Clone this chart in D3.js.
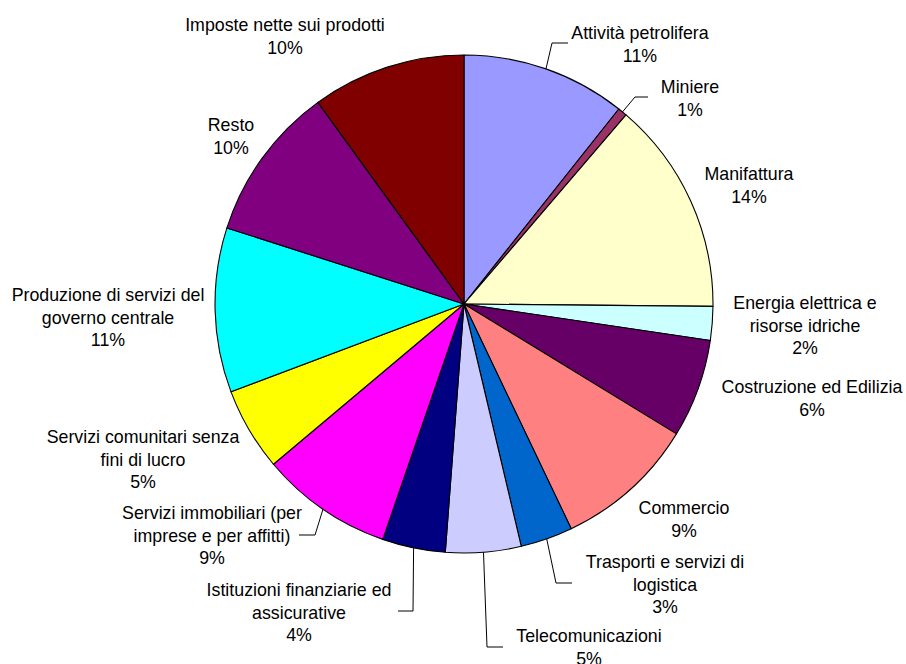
<!DOCTYPE html>
<html><head><meta charset="utf-8">
<script src="https://cdn.jsdelivr.net/npm/d3@7/dist/d3.min.js"></script>
<style>html,body{margin:0;padding:0;background:#fff;}svg{display:block;}</style>
</head><body>
<svg id="chart" width="906" height="664"></svg>
<script>
const categories = ["Attività petrolifera","Miniere","Manifattura","Energia elettrica e risorse idriche","Costruzione ed Edilizia","Commercio","Trasporti e servizi di logistica","Telecomunicazioni","Istituzioni finanziarie ed assicurative","Servizi immobiliari (per imprese e per affitti)","Servizi comunitari senza fini di lucro","Produzione di servizi del governo centrale","Resto","Imposte nette sui prodotti"];
const values = [10.7,0.6,13.9,2.2,6.4,9.2,3.4,4.9,4.1,8.6,5.4,10.7,10.1,10.0];
const colors = ["#9999FF","#993366","#FFFFCC","#CCFFFF","#660066","#FF8080","#0066CC","#CCCCFF","#000080","#FF00FF","#FFFF00","#00FFFF","#800080","#800000"];
const labelLines = [["Attività petrolifera"],["Miniere"],["Manifattura"],["Energia elettrica e","risorse idriche"],["Costruzione ed Edilizia"],["Commercio"],["Trasporti e servizi di","logistica"],["Telecomunicazioni"],["Istituzioni finanziarie ed","assicurative"],["Servizi immobiliari (per","imprese e per affitti)"],["Servizi comunitari senza","fini di lucro"],["Produzione di servizi del","governo centrale"],["Resto"],["Imposte nette sui prodotti"]];

// layout: label centre (x, first line y) and optional leader elbow / end
const labelPos = [[640,33],[690,87],[749,174],[805,303],[812,387],[684,508],[665,562],[589,636],[299,590],[212,513],[143,437],[108,295],[231,125],[285,25]];
const leaders = {0:[[552,43],[568,43]],1:[[635,97],[648,97]],6:[[556,583],[572,583]],7:[[487,647],[503,647]],8:[[413,611],[398,611]],9:[[315,535],[299,535]]};

const cx = 464, cy = 304, R = 249, lineH = 22.6;
const svg = d3.select("#chart");
const total = d3.sum(values);
const pie = d3.pie().sort(null).value(d => d)(values);
const arc = d3.arc().innerRadius(0).outerRadius(R);
const g = svg.append("g").attr("transform", `translate(${cx},${cy})`);
g.selectAll("path.slice").data(pie).join("path")
  .attr("class","slice")
  .attr("d", arc)
  .attr("fill", (d,i) => colors[i])
  .attr("stroke", "#000").attr("stroke-width", 1.1).attr("stroke-linejoin","round");

// leader lines
Object.keys(leaders).forEach(k => {
  const i = +k;
  const a = (pie[i].startAngle + pie[i].endAngle) / 2;
  const p0 = [cx + R*Math.sin(a), cy - R*Math.cos(a)];
  const pts = [p0].concat(leaders[k]);
  svg.append("path").attr("d", d3.line()(pts)).attr("fill","none").attr("stroke","#000").attr("stroke-width",1);
});

// labels
categories.forEach((c,i) => {
  const lines = labelLines[i].concat([Math.round(values[i]/total*100) + "%"]);
  const [x,y] = labelPos[i];
  const t = svg.append("text").attr("x", x).attr("y", y)
    .attr("text-anchor","middle")
    .attr("font-family","'Liberation Sans', Arial, sans-serif").attr("font-size",17.8).attr("fill","#000");
  lines.forEach((l,j) => t.append("tspan").attr("x", x).attr("y", y + j*lineH).attr("dominant-baseline","central").text(l));
});
</script>
</body></html>
